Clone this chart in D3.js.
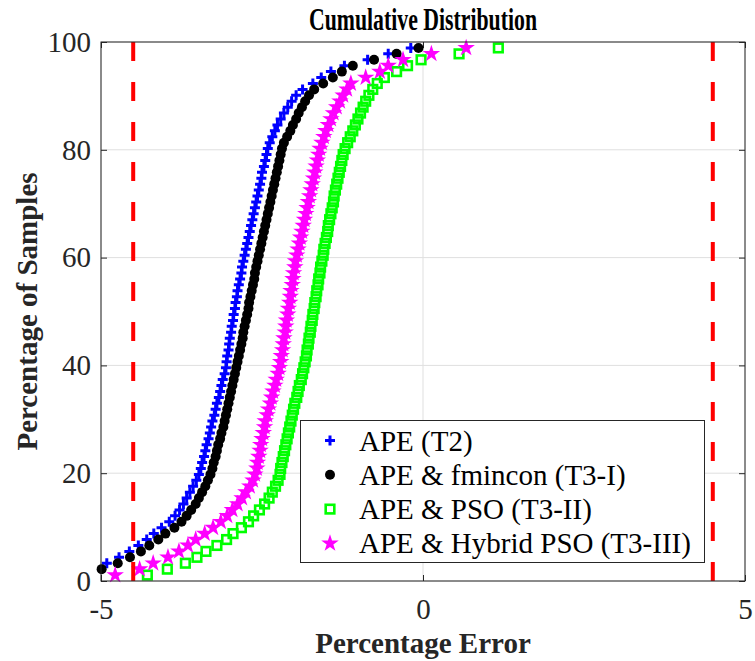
<!DOCTYPE html>
<html>
<head>
<meta charset="utf-8">
<script src="https://cdn.jsdelivr.net/npm/d3@7"></script>
<style>
  body { margin: 0; background: #fff; }
  svg { display: block; }
  .axis .tick line { stroke: #262626; }
  .axis path.domain { display: none; }
  .grid line { stroke: #dfdfdf; stroke-width: 1; }
</style>
</head>
<body>
<div id="chart"></div>
<script>
// Sorted percentage errors per method (90 samples each).
const apeT2 = [
  -5.50, -5.15, -4.91, -4.72, -4.56, -4.42, -4.29, -4.18, -4.06, -3.94,
  -3.85, -3.78, -3.72, -3.67, -3.62, -3.57, -3.52, -3.48, -3.45, -3.43,
  -3.40, -3.38, -3.36, -3.33, -3.31, -3.29, -3.27, -3.24, -3.22, -3.20,
  -3.17, -3.15, -3.13, -3.11, -3.08, -3.06, -3.05, -3.04, -3.02, -3.01,
  -3.00, -2.98, -2.97, -2.95, -2.94, -2.92, -2.91, -2.89, -2.88, -2.86,
  -2.84, -2.82, -2.81, -2.79, -2.77, -2.75, -2.73, -2.71, -2.69, -2.67,
  -2.65, -2.63, -2.61, -2.59, -2.57, -2.55, -2.53, -2.51, -2.50, -2.47,
  -2.45, -2.43, -2.41, -2.38, -2.34, -2.30, -2.26, -2.21, -2.16, -2.10,
  -2.04, -1.97, -1.87, -1.71, -1.58, -1.43, -1.22, -0.86, -0.54, -0.19
];

const apeFmincon = [
  -5.30, -4.99, -4.74, -4.55, -4.38, -4.25, -4.11, -4.00, -3.86, -3.75,
  -3.67, -3.60, -3.53, -3.48, -3.43, -3.38, -3.34, -3.30, -3.27, -3.25,
  -3.22, -3.20, -3.18, -3.15, -3.13, -3.10, -3.08, -3.06, -3.04, -3.02,
  -3.00, -2.98, -2.96, -2.94, -2.92, -2.90, -2.88, -2.86, -2.84, -2.82,
  -2.80, -2.79, -2.77, -2.75, -2.73, -2.71, -2.70, -2.68, -2.66, -2.64,
  -2.62, -2.61, -2.59, -2.57, -2.55, -2.53, -2.51, -2.49, -2.47, -2.45,
  -2.43, -2.41, -2.39, -2.37, -2.35, -2.33, -2.31, -2.29, -2.27, -2.25,
  -2.23, -2.21, -2.19, -2.16, -2.11, -2.06, -2.02, -1.97, -1.93, -1.88,
  -1.83, -1.77, -1.69, -1.55, -1.40, -1.26, -1.09, -0.76, -0.41, -0.07
];

const apePso = [
  -4.28, -3.97, -3.69, -3.51, -3.37, -3.20, -3.05, -2.95, -2.82, -2.71,
  -2.63, -2.54, -2.46, -2.39, -2.34, -2.29, -2.25, -2.22, -2.21, -2.19,
  -2.17, -2.15, -2.13, -2.11, -2.09, -2.07, -2.05, -2.03, -2.01, -1.99,
  -1.96, -1.94, -1.92, -1.89, -1.87, -1.85, -1.83, -1.81, -1.80, -1.78,
  -1.77, -1.75, -1.74, -1.72, -1.71, -1.69, -1.68, -1.66, -1.65, -1.63,
  -1.62, -1.60, -1.59, -1.57, -1.55, -1.54, -1.52, -1.50, -1.48, -1.47,
  -1.45, -1.43, -1.41, -1.39, -1.38, -1.36, -1.34, -1.32, -1.30, -1.28,
  -1.26, -1.24, -1.21, -1.17, -1.13, -1.09, -1.05, -1.01, -0.97, -0.93,
  -0.89, -0.84, -0.78, -0.71, -0.60, -0.41, -0.24, -0.03, 0.56, 1.17
];

const apeHybridPso = [
  -4.78, -4.40, -4.19, -3.96, -3.79, -3.65, -3.53, -3.39, -3.26, -3.14,
  -3.04, -2.96, -2.88, -2.81, -2.75, -2.69, -2.64, -2.61, -2.58, -2.57,
  -2.55, -2.53, -2.52, -2.50, -2.48, -2.46, -2.45, -2.42, -2.40, -2.37,
  -2.35, -2.33, -2.30, -2.28, -2.25, -2.23, -2.21, -2.20, -2.18, -2.17,
  -2.16, -2.14, -2.13, -2.12, -2.10, -2.09, -2.07, -2.06, -2.05, -2.03,
  -2.02, -2.01, -1.99, -1.98, -1.96, -1.94, -1.92, -1.90, -1.88, -1.86,
  -1.84, -1.82, -1.80, -1.78, -1.76, -1.74, -1.72, -1.70, -1.68, -1.66,
  -1.64, -1.62, -1.60, -1.57, -1.54, -1.51, -1.47, -1.43, -1.39, -1.34,
  -1.29, -1.24, -1.18, -1.12, -0.89, -0.67, -0.54, -0.31, 0.13, 0.67
];

const seriesNames = [
  "APE (T2)",
  "APE & fmincon (T3-I)",
  "APE & PSO (T3-II)",
  "APE & Hybrid PSO (T3-III)"
];
const xTicks = [-5, 0, 5];
const yTicks = [0, 20, 40, 60, 80, 100];
const errorLimits = [-4.5, 4.5];

(function() {
  let size = { width: 755, height: 661 };
  let plot = { left: 101, top: 42, right: 745, bottom: 581 };
  let axisColor = "#262626";
  let serif = "Liberation Serif";
  let tickLen = 6;

  // empirical cdf: rank -> percentage of samples
  function cdf(values) {
    let n = values.length;
    return values.map((v, i) => ({ x: v, y: ((i + 1) / (n + 1)) * 100 }));
  }

  let x = d3.scaleLinear().domain([-5, 5]).range([plot.left, plot.right]);
  let y = d3.scaleLinear().domain([0, 100]).range([plot.bottom, plot.top]);

  // marker painters, one per series (MATLAB style)
  let markers = [
    g => g.append("path")
      .attr("d", "M-5,0H5M0,-5V5")
      .attr("stroke", "#0000ff")
      .attr("stroke-width", 3)
      .attr("fill", "none"),
    g => g.append("circle")
      .attr("r", 5)
      .attr("fill", "#000"),
    g => g.append("rect")
      .attr("x", -4.3).attr("y", -4.3)
      .attr("width", 8.6).attr("height", 8.6)
      .attr("fill", "none")
      .attr("stroke", "#00ff00")
      .attr("stroke-width", 2.6),
    g => g.append("path")
      .attr("d", d3.symbol(d3.symbolStar, 95)())
      .attr("fill", "#ff00ff")
  ];

  let series = [apeT2, apeFmincon, apePso, apeHybridPso];

  let svg = d3.select("#chart")
    .append("svg")
    .attr("width", size.width)
    .attr("height", size.height)
    .attr("font-family", serif);

  svg.append("rect")
    .attr("width", size.width)
    .attr("height", size.height)
    .attr("fill", "#fff");

  // grid
  let grid = svg.append("g").attr("class", "grid");
  grid.selectAll("line.gx")
    .data(xTicks)
    .enter()
    .append("line")
    .attr("class", "gx")
    .attr("x1", d => x(d)).attr("x2", d => x(d))
    .attr("y1", plot.top).attr("y2", plot.bottom);
  grid.selectAll("line.gy")
    .data(yTicks)
    .enter()
    .append("line")
    .attr("class", "gy")
    .attr("x1", plot.left).attr("x2", plot.right)
    .attr("y1", d => y(d)).attr("y2", d => y(d));

  // axes, ticks pointing inward
  svg.append("g")
    .attr("class", "axis")
    .attr("transform", "translate(0," + plot.bottom + ")")
    .call(d3.axisBottom(x).tickValues(xTicks).tickSizeInner(-tickLen).tickSizeOuter(0).tickPadding(17)
      .tickFormat(d => String(d)));

  svg.append("g")
    .attr("class", "axis")
    .attr("transform", "translate(" + plot.left + ",0)")
    .call(d3.axisLeft(y).tickValues(yTicks).tickSizeInner(-tickLen).tickSizeOuter(0).tickPadding(10));

  svg.append("g")
    .attr("class", "axis")
    .attr("transform", "translate(0," + plot.top + ")")
    .call(d3.axisTop(x).tickValues(xTicks).tickSizeInner(-tickLen).tickSizeOuter(0).tickFormat(""));

  svg.append("g")
    .attr("class", "axis")
    .attr("transform", "translate(" + plot.right + ",0)")
    .call(d3.axisRight(y).tickValues(yTicks).tickSizeInner(-tickLen).tickSizeOuter(0).tickFormat(""));

  svg.selectAll(".axis")
    .attr("font-family", serif)
    .attr("font-size", 29);
  svg.selectAll(".axis .tick text")
    .attr("fill", axisColor);

  // data points (points outside the x limits are not drawn, like MATLAB clipping)
  series.forEach(function(values, k) {
    let pts = cdf(values).filter(d => d.x >= -5 && d.x <= 5);
    let g = svg.append("g").attr("class", "series s" + k);
    g.selectAll("g.pt")
      .data(pts)
      .enter()
      .append("g")
      .attr("class", "pt")
      .attr("transform", d => "translate(" + x(d.x) + "," + y(d.y) + ")")
      .each(function() { markers[k](d3.select(this)); });
  });

  // error limits
  svg.selectAll("line.limit")
    .data(errorLimits)
    .enter()
    .append("line")
    .attr("class", "limit")
    .attr("x1", d => x(d)).attr("x2", d => x(d))
    .attr("y1", y(100)).attr("y2", y(0))
    .attr("stroke", "#ff0000")
    .attr("stroke-width", 4)
    .attr("stroke-dasharray", "19 21");

  // box
  svg.append("rect")
    .attr("x", plot.left)
    .attr("y", plot.top)
    .attr("width", plot.right - plot.left)
    .attr("height", plot.bottom - plot.top)
    .attr("fill", "none")
    .attr("stroke", axisColor)
    .attr("stroke-width", 1);

  // labels
  svg.append("text")
    .attr("x", (plot.left + plot.right) / 2)
    .attr("y", 30)
    .attr("text-anchor", "middle")
    .attr("font-size", 31)
    .attr("font-weight", "bold")
    .attr("textLength", 228)
    .attr("lengthAdjust", "spacingAndGlyphs")
    .attr("fill", "#000")
    .text("Cumulative Distribution");

  svg.append("text")
    .attr("x", (plot.left + plot.right) / 2)
    .attr("y", 653)
    .attr("text-anchor", "middle")
    .attr("font-size", 29)
    .attr("font-weight", "bold")
    .attr("fill", axisColor)
    .text("Percentage Error");

  svg.append("text")
    .attr("transform", "translate(37," + (plot.top + plot.bottom) / 2 + ") rotate(-90)")
    .attr("text-anchor", "middle")
    .attr("font-size", 29)
    .attr("font-weight", "bold")
    .attr("fill", axisColor)
    .text("Percentage of Samples");

  // legend
  let legend = svg.append("g").attr("class", "legend");
  legend.append("rect")
    .attr("x", 300.5).attr("y", 420.5)
    .attr("width", 404).attr("height", 142)
    .attr("fill", "#fff")
    .attr("stroke", axisColor)
    .attr("stroke-width", 1);

  let rows = legend.selectAll("g.row")
    .data(seriesNames)
    .enter()
    .append("g")
    .attr("class", "row")
    .attr("transform", (d, i) => "translate(0," + (450.5 + i * 34.3) + ")");

  rows.append("g")
    .attr("transform", "translate(330,-10)")
    .each(function(d, i) { markers[i](d3.select(this)); });

  rows.append("text")
    .attr("x", 359)
    .attr("font-size", 29)
    .attr("fill", "#000")
    .text(d => d);

  // serif everywhere, set inline so nothing overrides it
  svg.selectAll("text").style("font-family", serif);
})();
</script>
</body>
</html>
